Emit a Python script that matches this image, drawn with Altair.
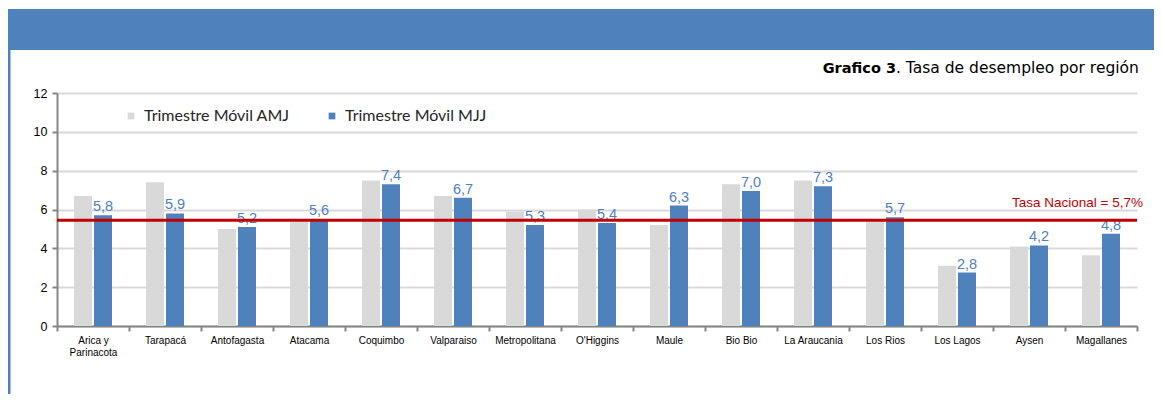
import altair as alt
import pandas as pd

regions = ["Arica y Parinacota", "Tarapacá", "Antofagasta", "Atacama", "Coquimbo",
           "Valparaiso", "Metropolitana", "O'Higgins", "Maule", "Bio Bio",
           "La Araucania", "Los Rios", "Los Lagos", "Aysen", "Magallanes"]
amj = [6.7, 7.4, 5.0, 5.4, 7.5, 6.7, 5.9, 6.0, 5.2, 7.3, 7.5, 5.4, 3.1, 4.1, 3.65]
mjj = [5.7, 5.8, 5.1, 5.5, 7.3, 6.6, 5.2, 5.3, 6.2, 6.95, 7.2, 5.6, 2.75, 4.15, 4.75]
mjj_labels = ["5,8", "5,9", "5,2", "5,6", "7,4", "6,7", "5,3", "5,4", "6,3", "7,0",
              "7,3", "5,7", "2,8", "4,2", "4,8"]
series = ["Trimestre Móvil AMJ", "Trimestre Móvil MJJ"]
colors = ["#D9D9D9", "#4F81BD"]
national_line = [5.45]
national_label = ["Tasa Nacional = 5,7%"]
y_ticks = [0, 2, 4, 6, 8, 10, 12]
title_bold = "Grafico 3"
title_rest = ". Tasa de desempleo por región"

rows = []
for i, r in enumerate(regions):
    rows.append({"region": r, "series": series[0], "value": amj[i], "label": ""})
    rows.append({"region": r, "series": series[1], "value": mjj[i], "label": mjj_labels[i]})
df = pd.DataFrame(rows)
rule_df = pd.DataFrame({"value": national_line, "text": national_label})
one = pd.DataFrame({"a": [0]})

W, H = 1080, 233
PL, PT, PR, PB = 49, 85, 17, 68

x_axis = alt.Axis(labelAngle=0, labelFontSize=10, labelFont="Liberation Sans",
                  labelColor="#000000", domainColor="#868686", domainWidth=2,
                  tickColor="#868686", tickWidth=2, tickSize=5, tickBand="extent",
                  labelPadding=4, labelLineHeight=12, grid=False,
                  labelExpr="datum.value == 'Arica y Parinacota' ? ['Arica y', 'Parinacota'] : datum.value")
y_axis = alt.Axis(values=y_ticks, labelOverlap=False, labelFontSize=12.5,
                  labelFont="Liberation Sans", labelColor="#000000",
                  domainColor="#868686", domainWidth=2, tickColor="#868686",
                  tickWidth=2, tickSize=5, labelPadding=5,
                  gridColor="#D9D9D9", gridWidth=2)
x_scale = alt.Scale(paddingInner=0, paddingOuter=0)
xo_scale = alt.Scale(paddingInner=0.1, paddingOuter=0.85)
y_scale = alt.Scale(domain=[0, 12], nice=False)

xenc = alt.X("region:N", sort=regions, title=None, scale=x_scale, axis=x_axis)
xoff = alt.XOffset("series:N", sort=series, scale=xo_scale)
yenc = alt.Y("value:Q", title=None, scale=y_scale, axis=y_axis)

bars = alt.Chart(df).mark_bar().encode(
    x=xenc, xOffset=xoff, y=yenc,
    color=alt.Color("series:N", sort=series,
                    scale=alt.Scale(domain=series, range=colors),
                    legend=alt.Legend(title=None, orient="none", direction="horizontal",
                                      legendX=66, legendY=15, symbolType="square",
                                      symbolSize=45, symbolStrokeWidth=0,
                                      labelFont="Lato", labelFontSize=16,
                                      labelColor="#262626", columnPadding=34,
                                      labelOffset=5))
)

labels = alt.Chart(df).transform_filter(alt.datum.label != "").mark_text(
    baseline="bottom", dy=-1, color="#4F81BD", fontSize=14.5, font="Liberation Sans"
).encode(x=xenc, xOffset=xoff, y=yenc, text="label:N")

rule = alt.Chart(rule_df).mark_rule(color="#C00000", strokeWidth=3).encode(y=yenc)
rule_text = alt.Chart(rule_df).mark_text(
    align="right", baseline="alphabetic", dy=-13, color="#C00000", fontSize=13.5,
    font="Liberation Sans"
).encode(x=alt.value(W + 6), y=yenc, text="text:N")

header = alt.Chart(one).mark_rect(color="#4F81BD").encode(
    x=alt.value(-PL), x2=alt.value(W + PR), y=alt.value(-84), y2=alt.value(-43))
border = alt.Chart(one).mark_rect(color="#4F81BD").encode(
    x=alt.value(-PL), x2=alt.value(-PL + 2.5), y=alt.value(-43), y2=alt.value(H + PB))

t_bold = alt.Chart(one).mark_text(
    text=title_bold, align="right", baseline="alphabetic", fontWeight="bold",
    fontSize=14.5, font="DejaVu Sans", color="#000000"
).encode(x=alt.value(839), y=alt.value(-20))
t_rest = alt.Chart(one).mark_text(
    text=title_rest, align="left", baseline="alphabetic",
    fontSize=15.5, font="DejaVu Sans", color="#000000"
).encode(x=alt.value(839), y=alt.value(-20))

chart = alt.layer(header, border, bars, labels, rule, rule_text, t_bold, t_rest).properties(
    width=W, height=H,
    autosize=alt.AutoSizeParams(type="none"),
    padding={"left": PL, "top": PT, "right": PR, "bottom": PB},
    background="white"
).configure_view(stroke=None)

chart.save("out.html", embed_options={"renderer": "svg", "actions": False})
